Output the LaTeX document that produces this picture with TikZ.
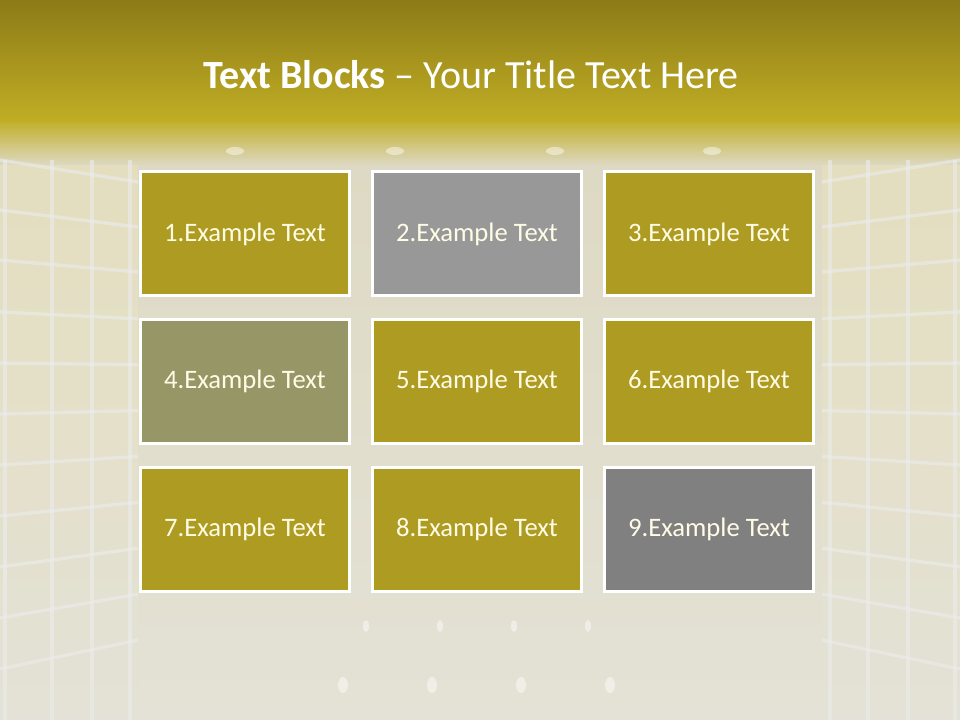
\documentclass[tikz,border=0pt]{standalone}
\usepackage{fontspec}
\setmainfont{Carlito}
\usetikzlibrary{positioning}
\definecolor{bandtop}{HTML}{8C7B17}
\definecolor{bandlow}{HTML}{C1AE25}
\definecolor{roomtop}{HTML}{DDD9C3}
\definecolor{roomlow}{HTML}{E4E2D6}
\definecolor{walltile}{HTML}{E6E0BE}
\definecolor{oliveblock}{HTML}{AE9B22}
\definecolor{greyblock}{HTML}{989898}
\definecolor{sageblock}{HTML}{979667}
\definecolor{darkblock}{HTML}{808080}
\definecolor{blocktext}{HTML}{FFFCE6}

\begin{document}
\begin{tikzpicture}[x=0.75pt,y=-0.75pt,node distance=15.5pt and 15pt,
  block/.style={draw=white,line width=2.25pt,minimum width=156.75pt,minimum height=93pt,
    inner sep=0pt,text=blocktext,font=\fontsize{20}{24}\selectfont},
  tile/.style={white!85!gray,opacity=0.6,line width=2.5pt},
  spot/.style={white,opacity=0.45}]
% background room
\useasboundingbox (0,0) rectangle (960,720);
\shade[top color=roomtop,bottom color=roomlow] (0,150) rectangle (960,720);
\shade[top color=walltile,bottom color=roomlow,opacity=0.8] (0,160) rectangle (138,720);
\shade[top color=walltile,bottom color=roomlow,opacity=0.8] (822,160) rectangle (960,720);
\shade[top color=bandlow,bottom color=roomtop] (0,120) rectangle (960,165);
\shade[top color=bandtop,bottom color=bandlow] (0,0) rectangle (960,122);
% side walls
\foreach \x in {5,52,92,130} {
  \draw[tile] (\x,160) -- (\x,720);
  \draw[tile] (960-\x,160) -- (960-\x,720);
}
\foreach \y in {160,210,260,312,363,414,465,516,567,618,669} {
  \draw[tile] (0,\y) -- (138,{\y+(380-\y)*0.1});
  \draw[tile] (960,\y) -- (822,{\y+(380-\y)*0.1});
}
% lights
\foreach \x in {235,395,555,712}
  \fill[spot] (\x,151) ellipse (9 and 4);
\foreach \x in {366,440,514,588}
  \fill[spot] (\x,626) ellipse (3 and 6);
\foreach \x in {343,432,521,610}
  \fill[spot] (\x,685) ellipse (5 and 8);
% title
\node[text=white,font=\fontsize{30}{34}\selectfont] (title) at (471,75)
  {\textbf{Text Blocks} -- Your Title Text Here};
% blocks
\node[block,fill=oliveblock] (b1) at (245,234) {1.Example Text};
\node[block,fill=greyblock,right=of b1] (b2) {2.Example Text};
\node[block,fill=oliveblock,right=of b2] (b3) {3.Example Text};
\node[block,fill=sageblock,below=of b1] (b4) {4.Example Text};
\node[block,fill=oliveblock,right=of b4] (b5) {5.Example Text};
\node[block,fill=oliveblock,right=of b5] (b6) {6.Example Text};
\node[block,fill=oliveblock,below=of b4] (b7) {7.Example Text};
\node[block,fill=oliveblock,right=of b7] (b8) {8.Example Text};
\node[block,fill=darkblock,right=of b8] (b9) {9.Example Text};
\end{tikzpicture}
\end{document}
